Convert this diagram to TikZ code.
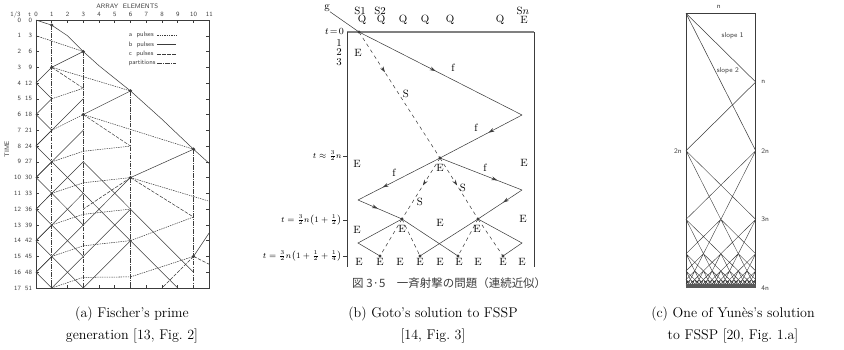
\documentclass[tikz,border=0pt]{standalone}
\usepackage{amsmath}
\usepackage{fontspec}
\usepackage{tikz}
\usetikzlibrary{arrows.meta, decorations.markings, calc}
\newfontfamily\cjk{Noto Sans CJK JP}
\definecolor{tinta}{RGB}{60,60,60}

\begin{document}
\begin{tikzpicture}[x=0.3mm, y=-0.3mm,
    linha/.style={tinta, line width=0.45pt},
    apulse/.style={linha, dash pattern=on 1.2pt off 0.8pt},
    cpulse/.style={linha, dash pattern=on 3pt off 1.2pt},
    partition/.style={linha, dash pattern=on 4pt off 1pt on 0.8pt off 1pt},
    peq/.style={font=\fontsize{5.5}{6}\sffamily, text=tinta, inner sep=0.5pt},
    rot/.style={font=\fontsize{9}{10}\selectfont, inner sep=0pt},
    formula/.style={font=\fontsize{7.2}{8}\selectfont, inner sep=0pt, anchor=east},
    yfont/.style={font=\fontsize{6}{7}\sffamily, text=tinta, inner sep=0.5pt},
    legenda/.style={align=center, font=\fontsize{12}{19.5}\selectfont},
    midarrow/.style={postaction={decorate}, decoration={markings,
        mark=at position #1 with {\arrow{Stealth[length=5pt, width=3.2pt]}}}},
    ponto/.style={circle, fill=tinta, inner sep=0pt, minimum size=3pt}]
    \useasboundingbox (0,0) rectangle (844,349);

    % ---------- (a) Fischer ----------
    \begin{scope}[xshift=10.8mm, yshift=-6mm, x=4.725mm, y=-4.728mm]
        \draw[linha] (0,0) rectangle (11,17);
        \foreach \c in {0,...,11} {
            \draw[linha] (\c,0) -- (\c,0.2);
            \draw[linha] (\c,17) -- (\c,16.8);
            \node[peq] (col\c) at (\c,-0.35) {\c};
        }
        \foreach \r in {0,...,17} {
            \draw[linha] (0,\r) -- (0.2,\r);
            \draw[linha] (11,\r) -- (10.8,\r);
            \pgfmathtruncatemacro\tres{3*\r}
            \node[peq, anchor=east] (lin\r) at (-0.9,\r) {\r};
            \node[peq, anchor=east] (tem\r) at (-0.2,\r) {\tres};
        }
        \node[peq] (terco) at (-1.3,-0.35) {1/3};
        \node[peq] (tlab) at (-0.4,-0.35) {t};
        \node[peq] (arr) at (5.8,-0.9) {ARRAY\ \ ELEMENTS};
        \node[peq, rotate=90] (time) at (-1.85,8.2) {TIME};
        % legenda
        \node[peq, anchor=west] (la) at (5.84,0.95) {a\ \ pulses};
        \node[peq, anchor=west] (lb) at (5.84,1.55) {b\ \ pulses};
        \node[peq, anchor=west] (lc) at (5.84,2.15) {c\ \ pulses};
        \node[peq, anchor=west] (lp) at (5.84,2.75) {partitions};
        \draw[apulse] (7.7,0.95) -- (8.9,0.95);
        \draw[linha] (7.7,1.55) -- (8.9,1.55);
        \draw[cpulse] (7.7,2.15) -- (8.9,2.15);
        \draw[partition] (7.7,2.75) -- (8.9,2.75);
        % fronteira superior
        \draw[linha] (0,0) -- (1,0.33) -- (2,1) -- (3,2) -- (4,2.9) -- (5,3.7)
            -- (6,4.5) -- (7,5.4) -- (8,6.3) -- (10,8.2) -- (11,9.1);
        % particoes
        \draw[partition] (1,0.33) -- (1,17);
        \draw[partition] (3,2) -- (3,17);
        \draw[partition] (6,4.5) -- (6,17);
        \draw[partition] (10,8.2) -- (10,17);
        % a pulses
        \draw[apulse] (0,1) -- (3,2);
        \draw[apulse] (1,3) -- (6,4.5);
        \draw[apulse] (3,6) -- (10,8.2);
        \draw[apulse] (6,10) -- (11,11.5);
        \foreach \y/\z in {5/4.33, 7/6, 9/8.33, 11/10.33, 13/12.33, 15/14.33, 17/16.33}
            \draw[apulse] (1,\y) -- (3,\z);
        \foreach \y/\z in {8.33/8, 10.33/10, 12.33/12, 14.33/14, 16.33/16.3}
            \draw[apulse] (3,\y) -- (6,\z);
        \draw[apulse] (6,14) -- (10,12.5);
        \draw[apulse] (6,16.3) -- (10,15);
        % c pulses
        \draw[cpulse] (1,3) -- (3,4.33);
        \draw[cpulse] (3,6) -- (6,8);
        \draw[cpulse] (6,10) -- (10,12.5);
        \draw[cpulse] (10,15) -- (11,15.5);
        \draw[cpulse] (6,10) -- (3,12);
        \draw[cpulse] (10,15) -- (8,17);
        % b pulses
        \draw[linha] (3,2) -- (1,3);
        \draw[linha] (6,4.5) -- (3,6);
        \draw[linha] (10,8.2) -- (6,10);
        \draw[linha] (11,13.5) -- (10,15);
        \draw[linha] (1,3) -- (0,4) -- (1,5) -- (0,6) -- (1,7) -- (0,8) -- (1,9) -- (0,10)
            -- (1,11) -- (0,12) -- (1,13) -- (0,14) -- (1,15) -- (0,16) -- (1,17);
        \foreach \y in {8,10,12,14}
            \draw[linha] (0,\y) -- (3,\y-3);
        \draw[linha] (0,16) -- (6,10);
        \draw[linha] (1,17) -- (6,12);
        \draw[linha] (3,17) -- (6,14);
        \foreach \y in {9,11,13,15}
            \draw[linha] (1,\y) -- (3,\y+2);
        \draw[linha] (3,9) -- (6,12) -- (10,16);
        \draw[linha] (3,11) -- (6,14) -- (9,17);
        % pontos
        \foreach \p/\q in {1/0.33, 3/2, 6/4.5, 10/8.2, 1/3, 3/6, 6/10, 10/15}
            \node[ponto] (pt\p-\q) at (\p,\q) {};
        \node[ponto, minimum size=2pt] (ptx1) at (1,11) {};
        \node[ponto, minimum size=2pt] (ptx2) at (6,14) {};
    \end{scope}

    % ---------- (b) Goto ----------
    \coordinate (orig) at (359,32);
    \coordinate (refR1) at (522,115);
    \coordinate (meet) at (440,158);
    \coordinate (refL2) at (358,200);
    \coordinate (refR2) at (522,190);
    \coordinate (mA) at (402,219);
    \coordinate (mB) at (478,219);
    \coordinate (refL3) at (358,243);
    \coordinate (refR3) at (522,243);
    \coordinate (d1) at (380,256);
    \coordinate (d2) at (420,256);
    \coordinate (d3) at (458,256);
    \coordinate (d4) at (503,256);
    \draw[linha, line width=0.9pt, gray] (347,32) -- (534,32);
    \draw[linha] (347,32) -- (347,267);
    \draw[linha] (534,32) -- (534,267);
    \foreach \y in {156,220,256}
        \draw[linha] (343,\y) -- (347,\y);
    \node[rot] (gsig) at (327,8) {g};
    \draw[linha] (gsig.south east) -- (orig);
    \node[rot] (s1) at (360,11) {S1};
    \node[rot] (s2) at (380,11) {S2};
    \node[rot] (sn) at (523,11) {S$n$};
    \foreach \x [count=\i] in {362,381,403,425,450,500}
        \node[rot] (q\i) at (\x,20) {Q};
    \node[rot] (e0) at (524,20) {E};
    \node[rot, anchor=east, font=\fontsize{8}{9}\selectfont] (t0) at (344,31) {$t\!=\!0$};
    \node[rot] (t1) at (339,43) {1};
    \node[rot] (t2) at (339,52) {2};
    \node[rot] (t3) at (339,62) {3};
    \node[formula] (fa) at (342,156) {$t\approx\frac{3}{2}n$};
    \node[formula] (fb) at (342,220) {$t=\frac{3}{2}n\bigl(1+\frac{1}{2}\bigr)$};
    \node[formula] (fc) at (342,256) {$t=\frac{3}{2}n\bigl(1+\frac{1}{2}+\frac{1}{4}\bigr)$};
    % sinais f
    \draw[linha, midarrow=0.47] (orig) -- (refR1);
    \draw[linha, midarrow=0.41] (refR1) -- (meet);
    \draw[linha, midarrow=0.7] (meet) -- (refL2);
    \draw[linha, midarrow=0.7] (meet) -- (refR2);
    \draw[linha, midarrow=0.45] (refL2) -- (mA);
    \draw[linha, midarrow=0.43] (refR2) -- (mB);
    \draw[linha] (mA) -- (refL3) -- (d1);
    \draw[linha] (mB) -- (refR3) -- (d4);
    \draw[linha] (mA) -- (d3);
    \draw[linha] (mB) -- (d2);
    % sinais S
    \draw[linha, dashed, midarrow=0.32] (orig) -- (meet);
    \draw[linha, dashed, midarrow=0.45] (meet) -- (mA);
    \draw[linha, dashed, midarrow=0.45] (meet) -- (mB);
    \draw[linha, dashed] (mA) -- (d1);
    \draw[linha, dashed] (mA) -- (d2);
    \draw[linha, dashed] (mB) -- (d3);
    \draw[linha, dashed] (mB) -- (d4);
    \foreach \n in {orig,meet,mA,mB,d1,d2,d3,d4}
        \fill[tinta] (\n) circle (1.6);
    \node[rot] (lf1) at (453,68) {f};
    \node[rot] (lf2) at (476,128) {f};
    \node[rot] (lf3) at (394,173) {f};
    \node[rot] (lf4) at (485,168) {f};
    \node[rot] (ls1) at (406,94) {S};
    \node[rot] (ls2) at (420,202) {S};
    \node[rot] (ls3) at (463,188) {S};
    \foreach \x/\y [count=\i] in {358/53, 357/164, 440/168, 524/163, 440/223,
        523/219, 357/230, 402/229, 477/229}
        \node[rot] (e\i) at (\x,\y) {E};
    \foreach \x [count=\i] in {359,380,400,420,440,459,478,503,522}
        \node[rot] (eb\i) at (\x,262) {E};
    \node[anchor=west, inner sep=0pt, font=\cjk\fontsize{9.8}{10}\selectfont, text=tinta]
        (jcap) at (352,283) {図 3·5　一斉射撃の問題（連続近似）};

    % ---------- (c) Yunes ----------
    \begin{scope}[xshift=205.8mm, yshift=-3.99mm, x=20.91mm, y=-20.61mm]
        \draw[linha] (0,4) -- (0,0) -- (1,0) -- (1,4);
        \draw[linha] (0,0) -- (1,1) -- (0,2);
        \draw[linha] (0,0) -- (1,2);
        \foreach \k in {0,...,5} {
            \pgfmathsetmacro\L{1/2^\k}
            \pgfmathsetmacro\T{4-2*\L}
            \pgfmathtruncatemacro\N{2^\k-1}
            \foreach \i in {0,...,\N} {
                \pgfmathsetmacro\a{\i*\L}
                \draw[linha, line width=0.35pt] (\a,\T) -- (\a+\L,\T+\L)
                    (\a,\T) -- (\a+\L/2,\T+\L)
                    (\a+\L,\T) -- (\a,\T+\L)
                    (\a+\L,\T) -- (\a+\L/2,\T+\L);
            }
        }
        \fill[tinta!85] (0,3.94) rectangle (1,4);
        \node[yfont] (ntop) at (0.47,-0.1) {n};
        \node[yfont, anchor=west] (n1) at (1.07,1) {n};
        \node[yfont, anchor=east] (n2l) at (-0.05,2) {2n};
        \node[yfont, anchor=west] (n2r) at (1.07,2) {2n};
        \node[yfont, anchor=west] (n3) at (1.07,3) {3n};
        \node[yfont, anchor=west] (n4) at (1.07,4) {4n};
        \node[yfont] (sl1) at (0.67,0.33) {slope 1};
        \node[yfont] (sl2) at (0.6,0.84) {slope 2};
    \end{scope}

    % ---------- legendas ----------
    \node[legenda] (capA) at (132,325) {(a) Fischer's prime\\generation [13, Fig.~2]};
    \node[legenda] (capB) at (433,325) {(b) Goto's solution to FSSP\\{}[14, Fig.~3]};
    \node[legenda] (capC) at (733,325) {(c) One of Yunès's solution\\to FSSP [20, Fig.~1.a]};
\end{tikzpicture}
\end{document}
